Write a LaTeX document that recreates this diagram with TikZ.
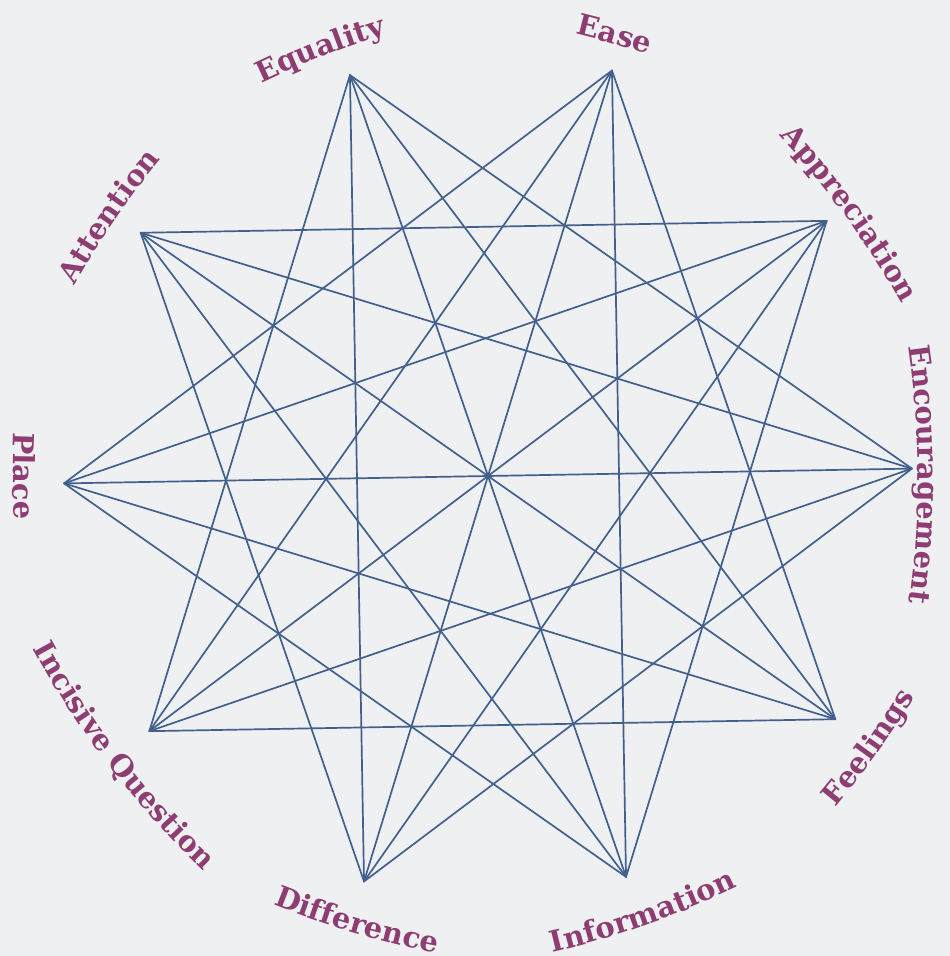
\documentclass[tikz,border=0pt]{standalone}
\usepackage{fontspec}
\usetikzlibrary{decorations.text}
\newfontfamily\lblfamily{DejaVu Serif}
\definecolor{paper}{HTML}{EEF0F2}
\definecolor{cstar}{HTML}{43608C}
\definecolor{clbl}{HTML}{8E3D72}
\newcommand\lblfont{\lblfamily\bfseries\fontsize{29}{31}\selectfont\color{clbl}}
\tikzset{
  edge/.style={draw=cstar, line width=1.7pt, line cap=round},
  ringtext/.style={decorate, decoration={text along path, text align=center, text={#1}}},
}
% #1 angle, #2 baseline radius, #3 1 = clockwise (top), -1 = anticlockwise (bottom), #4 text
\newcommand\ringlabel[4]{%
  \pgfmathsetmacro\lblshift{#2-900}%
  \pgfmathsetmacro\lblstart{#1+#3*20}%
  \pgfmathsetmacro\lblend{#1-#3*20}%
  \begin{scope}[shift={(#1:\lblshift)}]
    \path[ringtext={|\lblfont|#4}] (\lblstart:900) arc[start angle=\lblstart, end angle=\lblend, radius=900];
  \end{scope}}

\begin{document}
\begin{tikzpicture}[x=1pt, y=1pt]

% ---------------- canvas ----------------
\fill[paper] (-488,-480) rectangle (462,476);
\useasboundingbox (-488,-480) rectangle (462,476);

% ---------------- star vertices ----------------
\foreach \k in {0,...,9} {
  \coordinate (v\k) at ({1+36*\k}:424);
}

% ---------------- chords (steps 3, 4 and diameters) ----------------
\foreach \k in {0,...,9} {
  \foreach \s in {3,4} {
    \pgfmathtruncatemacro\j{mod(\k+\s,10)}
    \draw[edge] (v\k) -- (v\j);
  }
}
\foreach \k in {0,...,4} {
  \pgfmathtruncatemacro\j{\k+5}
  \draw[edge] (v\k) -- (v\j);
}

% ---------------- labels ----------------
\ringlabel{0.2}{430}{1}{Encouragement}
\ringlabel{36}{442}{1}{Appreciation}
\ringlabel{74}{450}{1}{Ease}
\ringlabel{111.5}{451}{1}{Equality}
\ringlabel{145.6}{452}{1}{Attention}
\ringlabel{180}{475}{-1}{Place}
\ringlabel{217.5}{477}{-1}{Incisive Question}
\ringlabel{253.6}{476}{-1}{Difference}
\ringlabel{289.5}{476}{-1}{Information}
\ringlabel{324.5}{478}{-1}{Feelings}

\end{tikzpicture}
\end{document}
